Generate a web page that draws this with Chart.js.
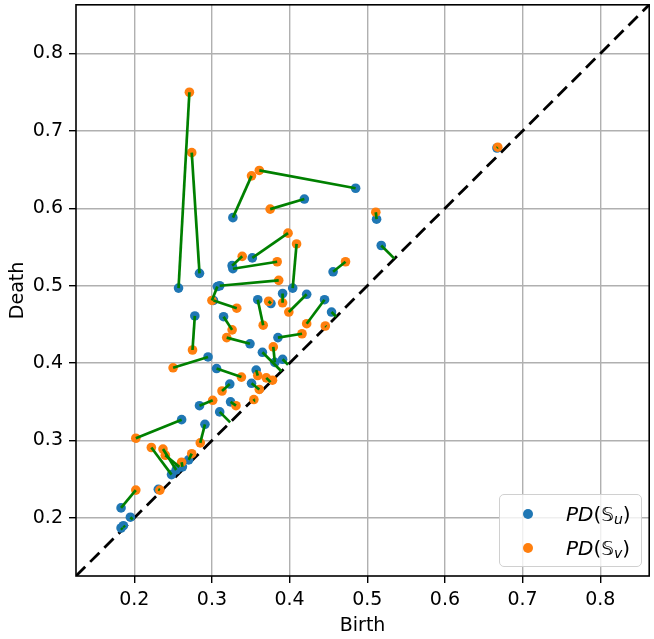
<!DOCTYPE html>
<html>
<head>
<meta charset="utf-8">
<script src="https://cdn.jsdelivr.net/npm/chart.js@4.4.1/dist/chart.umd.min.js"></script>
<style>
  html, body { margin: 0; padding: 0; background: #fff; }
  #wrap { position: relative; width: 654px; height: 639px; }
  #legend {
    position: absolute; left: 499px; top: 494px; width: 141px; height: 71px;
    border: 1px solid #d0d0d0; border-radius: 5px; background: rgba(255,255,255,0.8);
    font-family: "DejaVu Sans", sans-serif; font-size: 20px; color: #000;
  }
  #legend .row { position: absolute; left: 0; height: 30px; line-height: 30px; }
  #legend .dot { position: absolute; left: 23px; top: 10px; width: 10px; height: 10px; border-radius: 50%; }
  #legend .lbl { position: absolute; left: 66px; white-space: nowrap; }
  #legend sub { font-size: 14px; vertical-align: -3px; }
</style>
</head>
<body>
<div id="wrap">
  <canvas id="pd" width="654" height="639"></canvas>
  <div id="legend">
    <div class="row" style="top:4px"><span class="dot" style="background:#1f77b4"></span><span class="lbl"><i>PD</i>(𝕊<sub><i>u</i></sub>)</span></div>
    <div class="row" style="top:38px"><span class="dot" style="background:#ff7f0e"></span><span class="lbl"><i>PD</i>(𝕊<sub><i>v</i></sub>)</span></div>
  </div>
</div>
<script>
// matched pairs: blue = PD(S_u), orange = PD(S_v); null = matched to the diagonal
var uBirth = [0.257, 0.284, 0.327, 0.485, 0.419, 0.667, 0.512, 0.518, 0.456, 0.404,
              0.352, 0.326, 0.327, 0.310, 0.391, 0.359, 0.376, 0.422, 0.445, 0.454,
              null,  0.385, 0.278, 0.295, 0.261, 0.284, 0.306, 0.291, 0.349, 0.365,
              0.391, 0.381, 0.357, 0.351, null,  0.323, 0.324, 0.310, 0.248, 0.254,
              0.258, 0.270, 0.262, 0.231, 0.183, 0.195, 0.183, 0.186, 0.307, 0.315,
              null,  null,  0.302];
var uDeath = [0.497, 0.516, 0.588, 0.626, 0.612, 0.678, 0.586, 0.552, 0.518, 0.497,
              0.536, 0.526, 0.522, 0.500, 0.490, 0.482, 0.477, 0.489, 0.482, 0.466,
              null,  0.433, 0.461, 0.408, 0.327, 0.345, 0.393, 0.321, 0.425, 0.414,
              0.405, 0.401, 0.391, 0.374, null,  0.373, 0.350, 0.337, 0.256, 0.262,
              0.266, 0.275, 0.266, 0.237, 0.213, 0.201, 0.187, 0.190, 0.499, 0.460,
              null,  null,  0.481];
var vBirth = [0.271, 0.274, 0.351, 0.361, 0.375, 0.668, 0.511, null,  0.472, 0.409,
              0.398, 0.339, 0.384, 0.386, 0.391, 0.366, 0.373, 0.399, 0.422, null,
              0.446, 0.416, 0.275, 0.250, 0.202, 0.301, 0.338, 0.285, 0.319, null,
              null,  0.379, 0.359, 0.361, 0.354, 0.313, 0.331, null,  0.222, 0.237,
              0.240, 0.274, 0.261, 0.233, 0.202, null,  null,  null,  0.300, 0.326,
              0.370, 0.378, 0.332];
var vDeath = [0.750, 0.672, 0.642, 0.649, 0.599, 0.679, 0.595, null,  0.531, 0.554,
              0.568, 0.538, 0.531, 0.507, 0.478, 0.449, 0.480, 0.466, 0.451, null,
              0.448, 0.438, 0.417, 0.394, 0.303, 0.352, 0.382, 0.297, 0.433, null,
              null,  0.421, 0.384, 0.366, 0.353, 0.364, 0.345, null,  0.291, 0.289,
              0.281, 0.283, 0.272, 0.236, 0.236, null,  null,  null,  0.481, 0.443,
              0.381, 0.378, 0.471];

var axisMin = 0.125, axisMax = 0.863;
var tickValues = [0.2, 0.3, 0.4, 0.5, 0.6, 0.7, 0.8];

var bluePts = [], orangePts = [], datasets = [];
for (var i = 0; i < uBirth.length; i++) {
  var a = uBirth[i] !== null ? {x: uBirth[i], y: uDeath[i]} : null;
  var b = vBirth[i] !== null ? {x: vBirth[i], y: vDeath[i]} : null;
  if (a) bluePts.push(a);
  if (b) orangePts.push(b);
  // unmatched point goes to its projection on the diagonal
  var p = a || b;
  var m = (p.x + p.y) / 2;
  if (!a) a = {x: m, y: m};
  if (!b) b = {x: m, y: m};
  datasets.push({
    type: 'line', label: 'match', data: [a, b],
    borderColor: '#008000', borderWidth: 2.7, pointRadius: 0, fill: false, order: 0
  });
}
datasets.push({
  type: 'scatter', label: 'PD(Su)', data: bluePts,
  backgroundColor: '#1f77b4', borderWidth: 0, pointRadius: 4.8, order: 2
});
datasets.push({
  type: 'scatter', label: 'PD(Sv)', data: orangePts,
  backgroundColor: '#ff7f0e', borderWidth: 0, pointRadius: 4.8, order: 1
});
datasets.push({
  type: 'line', label: 'diag', data: [{x: axisMin, y: axisMin}, {x: axisMax, y: axisMax}],
  borderColor: '#000', borderWidth: 2.8, borderDash: [13, 7], pointRadius: 0, fill: false, order: 3
});

var frame = {
  id: 'frame',
  afterDraw: function(chart) {
    var a = chart.chartArea, c = chart.ctx;
    c.save();
    c.strokeStyle = '#000';
    c.lineWidth = 1.6;
    c.strokeRect(a.left, a.top, a.right - a.left, a.bottom - a.top);
    c.restore();
  }
};

function axis(title, w, isX) {
  return {
    type: 'linear', min: axisMin, max: axisMax,
    afterBuildTicks: function(s) { s.ticks = tickValues.map(function(v) { return {value: v}; }); },
    afterFit: function(s) {
      if (isX) { s.height = w; s.paddingLeft = 0; s.paddingRight = 0; }
      else { s.width = w; s.paddingTop = 0; s.paddingBottom = 0; }
    },
    ticks: {
      color: '#000', padding: 6, font: {family: 'DejaVu Sans', size: 19},
      callback: function(v) { return v.toFixed(1); }
    },
    grid: { color: '#b0b0b0', lineWidth: 1.4, tickColor: '#000', tickLength: 7, tickWidth: 1.4 },
    border: { display: false },
    title: { display: true, text: title, color: '#000', font: {family: 'DejaVu Sans', size: 19},
             padding: isX ? {top: 0, bottom: 2} : {top: 7, bottom: 0} }
  };
}

new Chart(document.getElementById('pd'), {
  type: 'scatter',
  data: { datasets: datasets },
  options: {
    responsive: false, animation: false,
    layout: { padding: { top: 4, right: 1, left: 0, bottom: 0 } },
    plugins: { legend: { display: false }, tooltip: { enabled: false } },
    scales: { x: axis('Birth', 63, true), y: axis('Death', 76, false) }
  },
  plugins: [frame]
});
</script>
</body>
</html>
